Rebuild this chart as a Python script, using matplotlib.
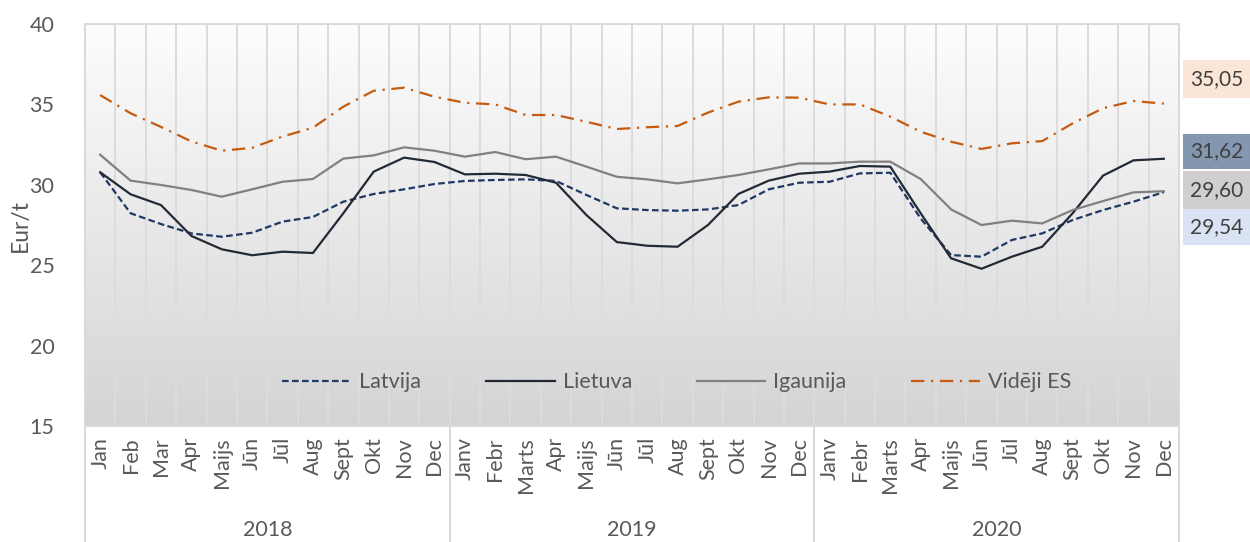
import matplotlib
matplotlib.use("Agg")
import matplotlib.pyplot as plt
import numpy as np
from matplotlib.colors import LinearSegmentedColormap
from matplotlib.patches import Rectangle

plt.rcParams["font.family"] = ["Lato", "DejaVu Sans"]

months_2018 = ["Jan", "Feb", "Mar", "Apr", "Maijs", "Jūn", "Jūl", "Aug", "Sept", "Okt", "Nov", "Dec"]
months_2019 = ["Janv", "Febr", "Marts", "Apr", "Maijs", "Jūn", "Jūl", "Aug", "Sept", "Okt", "Nov", "Dec"]
months_2020 = ["Janv", "Febr", "Marts", "Apr", "Maijs", "Jūn", "Jūl", "Aug", "Sept", "Okt", "Nov", "Dec"]
years = ["2018", "2019", "2020"]

latvija = [30.78, 28.23, 27.56, 26.98, 26.77, 27.02, 27.71, 28.00, 28.95, 29.43, 29.72, 30.05,
           30.24, 30.30, 30.34, 30.24, 29.37, 28.54, 28.43, 28.39, 28.47, 28.74, 29.72, 30.13,
           30.19, 30.71, 30.75, 27.90, 25.63, 25.53, 26.57, 26.98, 27.81, 28.43, 28.95, 29.54]
lietuva = [30.78, 29.41, 28.74, 26.82, 25.99, 25.62, 25.84, 25.76, 28.23, 30.82, 31.69, 31.42,
           30.65, 30.69, 30.61, 30.13, 28.12, 26.44, 26.21, 26.15, 27.50, 29.43, 30.26, 30.69,
           30.82, 31.17, 31.13, 28.23, 25.43, 24.78, 25.53, 26.15, 28.23, 30.57, 31.52, 31.62]
igaunija = [31.87, 30.26, 29.99, 29.68, 29.26, 29.72, 30.19, 30.36, 31.63, 31.83, 32.33, 32.12,
            31.75, 32.04, 31.59, 31.75, 31.13, 30.50, 30.34, 30.09, 30.34, 30.61, 30.96, 31.33,
            31.33, 31.44, 31.44, 30.36, 28.47, 27.50, 27.77, 27.60, 28.43, 28.99, 29.53, 29.60]
videji_es = [35.58, 34.45, 33.60, 32.70, 32.12, 32.30, 33.00, 33.55, 34.86, 35.85, 36.04, 35.48,
             35.10, 35.00, 34.34, 34.34, 33.92, 33.47, 33.58, 33.66, 34.49, 35.17, 35.44, 35.42,
             35.00, 35.00, 34.24, 33.30, 32.68, 32.23, 32.58, 32.72, 33.82, 34.76, 35.21, 35.05]

labels = months_2018 + months_2019 + months_2020
x = np.arange(len(labels)) + 0.5

fs = 15.5
txt_col = "#595959"

fig = plt.figure(figsize=(12.5, 5.42), dpi=100)
ax = fig.add_axes([0.068, 0.214, 0.8752, 0.7417])

# gradient background of the plot area
grad = np.linspace(0, 1, 256).reshape(-1, 1)
cmap = LinearSegmentedColormap.from_list("bg", ["#FDFDFD", "#D4D4D4"])
ax.imshow(grad, extent=[0, 36, 15, 40], aspect="auto", cmap=cmap, zorder=0, origin="upper")

for k in range(1, 36):
    ax.axvline(k, color="#DCDCDC", lw=1.4, zorder=1)

ax.plot(x, latvija, color="#203864", lw=1.6, ls=(0, (3, 1.5)), label="Latvija", zorder=3)
ax.plot(x, lietuva, color="#222A35", lw=1.6, label="Lietuva", zorder=3)
ax.plot(x, igaunija, color="#808080", lw=1.6, label="Igaunija", zorder=3)
ax.plot(x, videji_es, color="#C55A11", lw=1.6, ls=(0, (6, 3, 1, 3)), label="Vidēji ES", zorder=3)

ax.set_xlim(0, 36)
ax.set_ylim(15, 40)
ax.set_yticks([15, 20, 25, 30, 35, 40])
ax.set_xticks(x)
ax.set_xticklabels(labels, rotation=90)
ax.tick_params(axis="both", length=0, labelsize=fs, colors=txt_col)
ax.tick_params(axis="y", pad=22)
ax.tick_params(axis="x", pad=8)
for sp in ax.spines.values():
    sp.set_color("#D9D9D9")
    sp.set_linewidth(1.4)
ax.set_ylabel("Eur/t", fontsize=fs + 1, color=txt_col, labelpad=-1)

# year separators and labels
ybot = -0.214 / 0.7417
for k in [0, 12, 24, 36]:
    ax.plot([k, k], [0, ybot], transform=ax.get_xaxis_transform(), color="#D9D9D9",
            lw=1.4, clip_on=False)
for i, yr in enumerate(years):
    ax.text(12 * i + 6, (426 - 530) / 402, yr, transform=ax.get_xaxis_transform(),
            ha="center", va="center", fontsize=fs, color=txt_col)

ax.legend(loc="center", bbox_to_anchor=(0.541, 0.109), ncol=4, frameon=False,
          fontsize=fs, handlelength=3.2, handletextpad=0.37, columnspacing=3.0,
          labelcolor=txt_col)

# value boxes on the right
boxes = [("35,05", 60, 98, "#FBE5D6"), ("31,62", 134, 169, "#8497B0"),
         ("29,60", 171, 209, "#D0CECE"), ("29,54", 209, 245, "#DAE3F3")]
W, H = 1250, 542
for txt, y0, y1, col in boxes:
    fig.patches.append(Rectangle((1183 / W, 1 - y1 / H), (W - 1183) / W, (y1 - y0) / H,
                                 transform=fig.transFigure, facecolor=col, edgecolor="none"))
    fig.text(1190 / W, 1 - (y0 + y1) / 2 / H, txt, ha="left", va="center",
             fontsize=15, color="#404040")

fig.savefig("out.png", dpi=100)
